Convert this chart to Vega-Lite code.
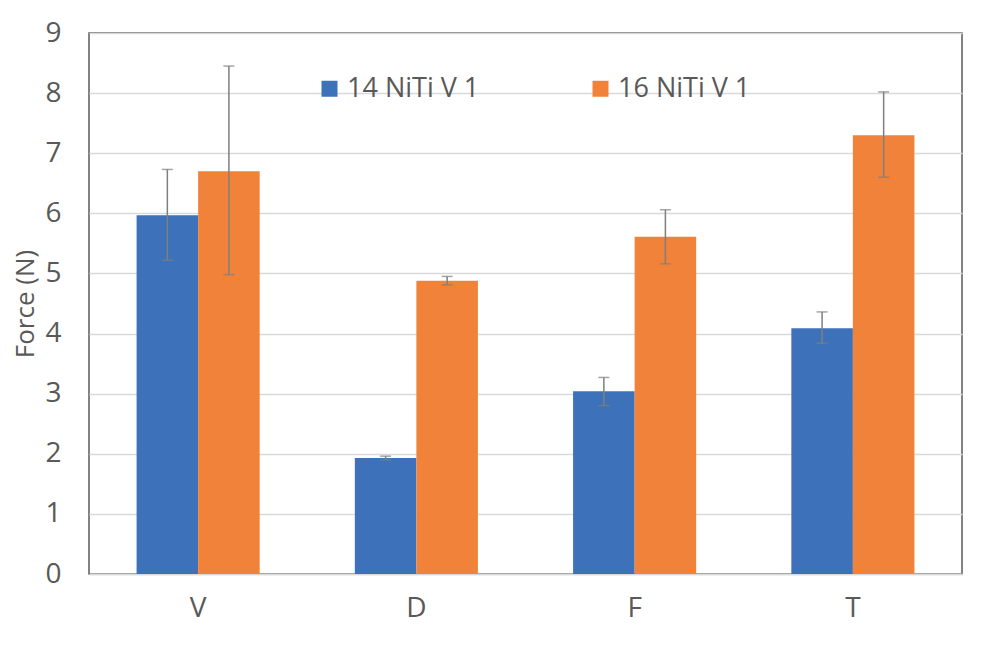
{
  "$schema": "https://vega.github.io/schema/vega-lite/v6.json",
  "width": 873,
  "height": 541,
  "autosize": {"type": "none"},
  "padding": {"left": 89, "top": 33, "right": 22, "bottom": 72},
  "background": "white",
  "config": {
    "font": "Open Sans",
    "view": {"stroke": "#595959", "strokeWidth": 1.5},
    "axis": {"labelFont": "Open Sans", "titleFont": "Open Sans", "labelColor": "#595959", "titleColor": "#595959"}
  },
  "data": {
    "values": [
      {"cat": "V", "series": "14 NiTi V 1", "force": 5.97, "lo": 5.22, "hi": 6.73},
      {"cat": "V", "series": "16 NiTi V 1", "force": 6.70, "lo": 4.98, "hi": 8.45},
      {"cat": "D", "series": "14 NiTi V 1", "force": 1.93, "lo": 1.90, "hi": 1.96},
      {"cat": "D", "series": "16 NiTi V 1", "force": 4.88, "lo": 4.81, "hi": 4.95},
      {"cat": "F", "series": "14 NiTi V 1", "force": 3.04, "lo": 2.80, "hi": 3.27},
      {"cat": "F", "series": "16 NiTi V 1", "force": 5.61, "lo": 5.16, "hi": 6.06},
      {"cat": "T", "series": "14 NiTi V 1", "force": 4.09, "lo": 3.84, "hi": 4.36},
      {"cat": "T", "series": "16 NiTi V 1", "force": 7.30, "lo": 6.60, "hi": 8.02}
    ]
  },
  "encoding": {
    "x": {
      "field": "cat", "type": "nominal", "sort": ["V", "D", "F", "T"],
      "scale": {"paddingInner": 0.436, "paddingOuter": 0.218},
      "axis": {"title": null, "labelAngle": 0, "labelFontSize": 28, "labelPadding": 20, "ticks": false, "domainColor": "#d9d9d9", "domainWidth": 1.5}
    },
    "xOffset": {"field": "series", "type": "nominal", "scale": {"paddingInner": 0, "paddingOuter": 0}}
  },
  "layer": [
    {
      "mark": {"type": "bar"},
      "encoding": {
        "y": {
          "field": "force", "type": "quantitative",
          "scale": {"domain": [0, 9], "nice": false},
          "axis": {"title": "Force (N)", "titleFontSize": 26, "titleFontWeight": "normal", "titlePadding": 6, "labelFontSize": 28, "labelPadding": 28, "ticks": false, "domain": false, "tickCount": 9, "gridColor": "#d9d9d9", "gridWidth": 1.5}
        },
        "color": {
          "field": "series", "type": "nominal",
          "scale": {"domain": ["14 NiTi V 1", "16 NiTi V 1"], "range": ["#3D71BA", "#F0823A"]},
          "legend": {
            "title": null, "orient": "none", "direction": "horizontal",
            "legendX": 227, "legendY": 42,
            "symbolType": "square", "symbolSize": 256, "symbolStrokeWidth": 0,
            "labelFontSize": 27, "labelColor": "#595959", "labelOffset": 4,
            "columnPadding": 107, "labelLimit": 400
          }
        }
      }
    },
    {
      "mark": {"type": "rule", "color": "#7f7f7f", "strokeWidth": 1.5},
      "encoding": {
        "y": {"field": "lo", "type": "quantitative"},
        "y2": {"field": "hi"}
      }
    },
    {
      "mark": {"type": "tick", "color": "#7f7f7f", "size": 11, "thickness": 1.5},
      "encoding": {"y": {"field": "lo", "type": "quantitative"}}
    },
    {
      "mark": {"type": "tick", "color": "#7f7f7f", "size": 11, "thickness": 1.5},
      "encoding": {"y": {"field": "hi", "type": "quantitative"}}
    }
  ]
}
